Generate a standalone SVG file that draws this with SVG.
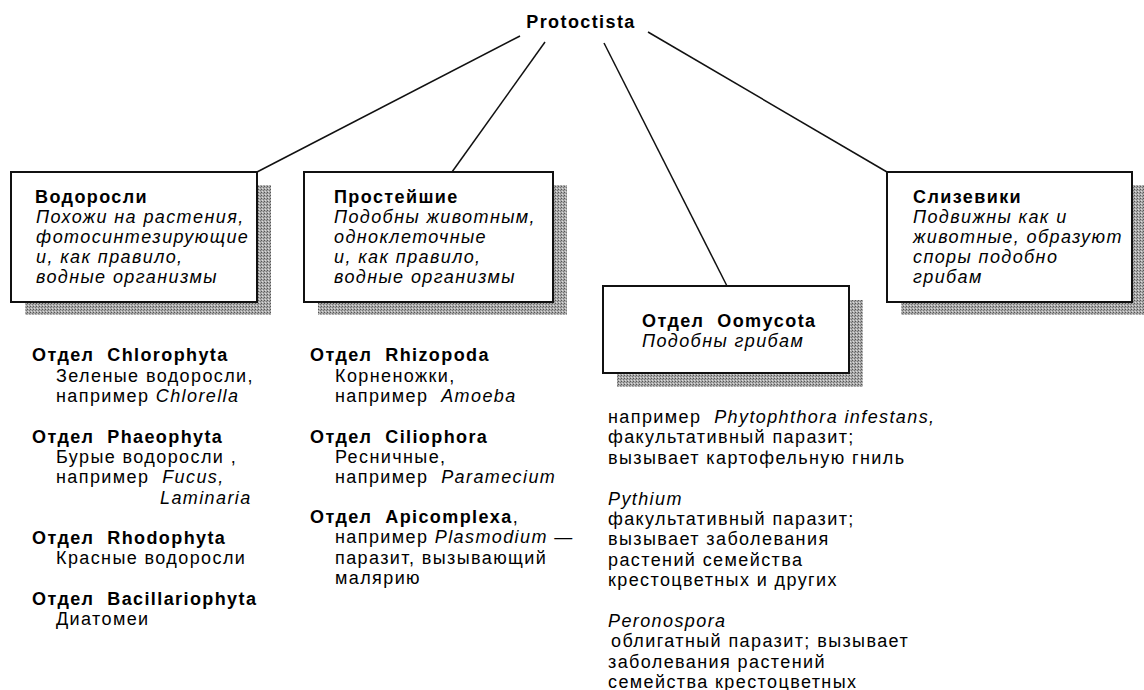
<svg xmlns="http://www.w3.org/2000/svg" width="1144" height="690" viewBox="0 0 1144 690">
<defs>
<pattern id="dots" width="3" height="3" patternUnits="userSpaceOnUse">
<rect width="3" height="3" fill="#aaa"/>
<rect width="1" height="1" fill="#555"/>
<rect x="2" y="1" width="1" height="1" fill="#777"/>
<rect x="1" y="2" width="1" height="1" fill="#ddd"/>
</pattern>
</defs>
<style>
text{font-family:"Liberation Sans",Arial,sans-serif;font-size:18px;letter-spacing:1.4px;fill:#000}
.b{font-weight:bold}
.i{font-style:italic}
.box{fill:#fff;stroke:#111;stroke-width:2}
.sh{fill:url(#dots)}
.ln{stroke:#111;stroke-width:1.5;fill:none}
</style>
<rect width="1144" height="690" fill="#fff"/>
<g id="connectors">
<line class="ln" x1="520" y1="36" x2="257" y2="172"/>
<line class="ln" x1="545" y1="42" x2="452" y2="172"/>
<line class="ln" x1="604" y1="43" x2="727" y2="286"/>
<line class="ln" x1="648" y1="32" x2="887" y2="172"/>
</g>
<g id="root">
<text class="b" x="581" y="28" text-anchor="middle">Protoctista</text>
</g>
<g id="n-algae">
<rect class="sh" x="25" y="185" width="246" height="130"/>
<rect class="box" x="11" y="172" width="246" height="130"/>
<text x="35" y="203"><tspan class="b">Водоросли</tspan>
<tspan class="i" x="36" dy="20">Похожи на растения,</tspan>
<tspan class="i" x="36" dy="20">фотосинтезирующие</tspan>
<tspan class="i" x="36" dy="20">и, как правило,</tspan>
<tspan class="i" x="36" dy="20">водные организмы</tspan></text>
</g>
<g id="n-protozoa">
<rect class="sh" x="318" y="185" width="249" height="130"/>
<rect class="box" x="304" y="172" width="249" height="130"/>
<text x="334" y="203"><tspan class="b">Простейшие</tspan>
<tspan class="i" x="334" dy="20">Подобны животным,</tspan>
<tspan class="i" x="334" dy="20">одноклеточные</tspan>
<tspan class="i" x="334" dy="20">и, как правило,</tspan>
<tspan class="i" x="334" dy="20">водные организмы</tspan></text>
</g>
<g id="n-oomycota">
<rect class="sh" x="617" y="300" width="246" height="87"/>
<rect class="box" x="603" y="286" width="246" height="87"/>
<text x="642" y="327"><tspan class="b">Отдел&#160; Oomycota</tspan>
<tspan class="i" x="642" dy="20">Подобны грибам</tspan></text>
</g>
<g id="n-slime">
<rect class="sh" x="901" y="185" width="245" height="130"/>
<rect class="box" x="887" y="172" width="245" height="130"/>
<text x="913" y="203"><tspan class="b">Слизевики</tspan>
<tspan class="i" x="913" dy="20">Подвижны как и</tspan>
<tspan class="i" x="913" dy="20">животные, образуют</tspan>
<tspan class="i" x="913" dy="20">споры подобно</tspan>
<tspan class="i" x="913" dy="20">грибам</tspan></text>
</g>
<g id="list-algae">
<text x="32" y="361.4"><tspan class="b">Отдел&#160; Chlorophyta</tspan>
<tspan x="56" dy="20.3">Зеленые водоросли,</tspan>
<tspan x="56" dy="20.3">например <tspan class="i">Chlorella</tspan></tspan></text>
<text x="32" y="442.6"><tspan class="b">Отдел&#160; Phaeophyta</tspan>
<tspan x="56" dy="20.3">Бурые водоросли ,</tspan>
<tspan x="56" dy="20.3">например&#160; <tspan class="i">Fucus,</tspan></tspan>
<tspan class="i" x="160" dy="20.3">Laminaria</tspan></text>
<text x="32" y="544.1"><tspan class="b">Отдел&#160; Rhodophyta</tspan>
<tspan x="56" dy="20.3">Красные водоросли</tspan></text>
<text x="32" y="605"><tspan class="b">Отдел&#160; Bacillariophyta</tspan>
<tspan x="56" dy="20.3">Диатомеи</tspan></text>
</g>
<g id="list-protozoa">
<text x="310" y="361.4"><tspan class="b">Отдел&#160; Rhizopoda</tspan>
<tspan x="335" dy="20.3">Корненожки,</tspan>
<tspan x="335" dy="20.3">например&#160; <tspan class="i">Amoeba</tspan></tspan></text>
<text x="310" y="442.6"><tspan class="b">Отдел&#160; Ciliophora</tspan>
<tspan x="335" dy="20.3">Ресничные,</tspan>
<tspan x="335" dy="20.3">например&#160; <tspan class="i">Paramecium</tspan></tspan></text>
<text x="310" y="523"><tspan class="b">Отдел&#160; Apicomplexa</tspan>,
<tspan x="335" dy="20.3">например <tspan class="i">Plasmodium</tspan> —</tspan>
<tspan x="335" dy="20.3">паразит, вызывающий</tspan>
<tspan x="335" dy="20.3">малярию</tspan></text>
</g>
<g id="list-oomycota">
<text x="608" y="423">например&#160; <tspan class="i">Phytophthora infestans,</tspan>
<tspan x="608" dy="20.4">факультативный паразит;</tspan>
<tspan x="608" dy="20.4">вызывает картофельную гниль</tspan></text>
<text x="608" y="504.6"><tspan class="i">Pythium</tspan>
<tspan x="608" dy="20.4">факультативный паразит;</tspan>
<tspan x="608" dy="20.4">вызывает заболевания</tspan>
<tspan x="608" dy="20.4">растений семейства</tspan>
<tspan x="608" dy="20.4">крестоцветных и других</tspan></text>
<text x="608" y="627"><tspan class="i">Peronospora</tspan>
<tspan x="611" dy="20.4">облигатный паразит; вызывает</tspan>
<tspan x="608" dy="20.4">заболевания растений</tspan>
<tspan x="608" dy="20.4">семейства крестоцветных</tspan></text>
</g>
</svg>
